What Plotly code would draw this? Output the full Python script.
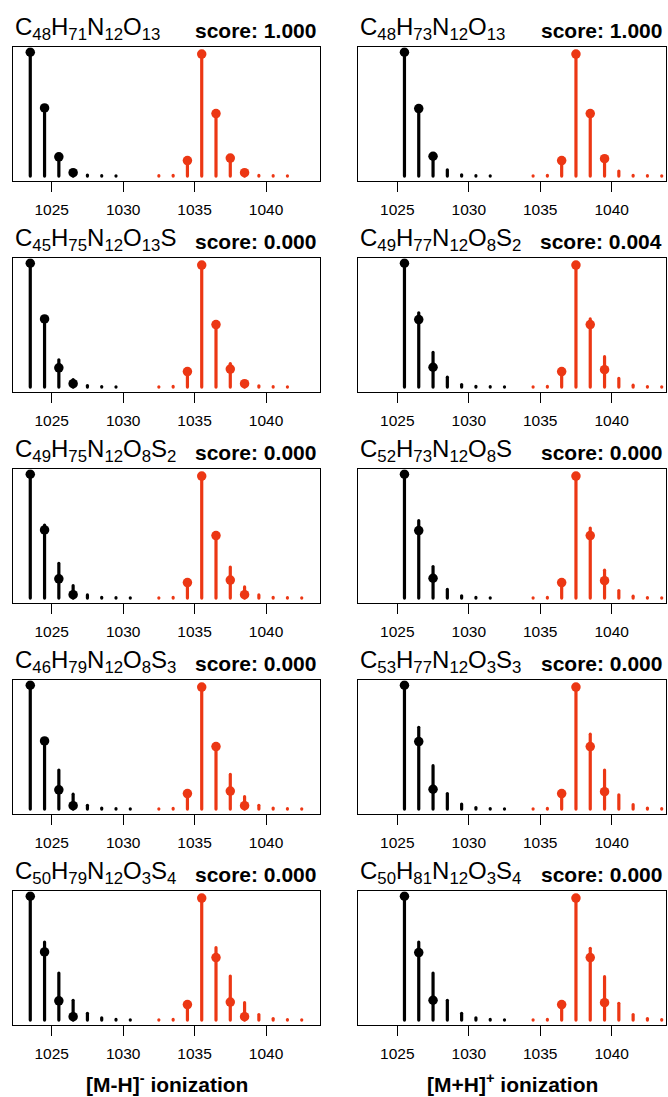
import re
import plotly.graph_objects as go

W, H = 668, 1097

# ---------------- data ----------------
LEFT_BLACK_X = [1023.5, 1024.5, 1025.5, 1026.5, 1027.5, 1028.5, 1029.5, 1030.5, 1031.5]
LEFT_RED_X = [1032.5, 1033.5, 1034.5, 1035.5, 1036.5, 1037.5, 1038.5, 1039.5,
              1040.5, 1041.5, 1042.5, 1043.5]
RIGHT_BLACK_X = [1025.5, 1026.5, 1027.5, 1028.5, 1029.5, 1030.5, 1031.5, 1032.5, 1033.5]
RIGHT_RED_X = [1034.5, 1035.5, 1036.5, 1037.5, 1038.5, 1039.5, 1040.5, 1041.5,
               1042.5, 1043.5]

LEFT_FORMULAS = ["C48H71N12O13", "C45H75N12O13S", "C49H75N12O8S2",
                 "C46H79N12O8S3", "C50H79N12O3S4"]
LEFT_SCORES = ["1.000", "0.000", "0.000", "0.000", "0.000"]
RIGHT_FORMULAS = ["C48H73N12O13", "C49H77N12O8S2", "C52H73N12O8S",
                  "C53H77N12O3S3", "C50H81N12O3S4"]
RIGHT_SCORES = ["1.000", "0.004", "0.000", "0.000", "0.000"]

# theoretical isotope patterns (stems), one list per formula
LEFT_BLACK_STEMS = [
    [1.0, 0.56, 0.17, 0.04, 0.008, 0.003, 0.002, None, None],
    [1.0, 0.55, 0.22, 0.06, 0.012, 0.004, 0.002, 0.001, None],
    [1.0, 0.59, 0.28, 0.10, 0.025, 0.006, 0.003, 0.002, None],
    [1.0, 0.55, 0.315, 0.12, 0.03, 0.008, 0.003, 0.002, None],
    [1.0, 0.63, 0.38, 0.16, 0.055, 0.018, 0.005, 0.002, 0.001],
]
LEFT_RED_STEMS = [
    [0.003, 0.006, 0.13, 1.0, 0.51, 0.15, 0.03, 0.005, 0.003, 0.002, None, None],
    [0.002, 0.005, 0.12, 1.0, 0.50, 0.19, 0.04, 0.01, 0.003, 0.002, 0.001, None],
    [0.002, 0.005, 0.13, 1.0, 0.52, 0.25, 0.09, 0.025, 0.006, 0.003, 0.002, None],
    [0.002, 0.005, 0.12, 1.0, 0.51, 0.28, 0.10, 0.03, 0.008, 0.003, 0.002, None],
    [0.002, 0.005, 0.12, 1.0, 0.585, 0.355, 0.14, 0.045, 0.012, 0.004, 0.002, 0.001],
]
RIGHT_BLACK_STEMS = [
    [1.0, 0.55, 0.16, 0.05, 0.01, 0.003, 0.002, None, None],
    [1.0, 0.60, 0.28, 0.08, 0.02, 0.006, 0.003, 0.002, None],
    [1.0, 0.625, 0.255, 0.07, 0.018, 0.005, 0.002, 0.001, None],
    [1.0, 0.66, 0.35, 0.125, 0.04, 0.012, 0.004, 0.002, 0.001],
    [1.0, 0.63, 0.38, 0.16, 0.055, 0.018, 0.005, 0.002, 0.001],
]
RIGHT_RED_STEMS = [
    [0.002, 0.006, 0.13, 1.0, 0.51, 0.15, 0.04, 0.006, 0.003, 0.002],
    [0.002, 0.005, 0.12, 1.0, 0.55, 0.245, 0.07, 0.015, 0.004, 0.002],
    [0.002, 0.005, 0.12, 1.0, 0.565, 0.225, 0.06, 0.015, 0.004, 0.002],
    [0.002, 0.005, 0.12, 1.0, 0.605, 0.315, 0.115, 0.035, 0.008, 0.003],
    [0.002, 0.005, 0.12, 1.0, 0.58, 0.35, 0.135, 0.045, 0.012, 0.004],
]

# observed intensities (dots), same for every formula of a column
LEFT_BLACK_OBS_X = [1023.5, 1024.5, 1025.5, 1026.5]
LEFT_BLACK_OBS = [1.0, 0.55, 0.155, 0.027]
LEFT_RED_OBS_X = [1034.5, 1035.5, 1036.5, 1037.5, 1038.5]
LEFT_RED_OBS = [0.125, 0.985, 0.505, 0.145, 0.027]
RIGHT_BLACK_OBS_X = [1025.5, 1026.5, 1027.5]
RIGHT_BLACK_OBS = [1.0, 0.545, 0.16]
RIGHT_RED_OBS_X = [1036.5, 1037.5, 1038.5, 1039.5]
RIGHT_RED_OBS = [0.125, 0.985, 0.505, 0.14]

X_TICKS = [1025, 1030, 1035, 1040]
X_RANGE = [1022.27, 1043.8]
Y_RANGE = [-0.04, 1.04]
COLUMN_LABELS = ["[M-H]<sup>-</sup> ionization", "[M+H]<sup>+</sup> ionization"]

# ---------------- style / layout ----------------
FONT = "Liberation Sans, Arial, Helvetica, sans-serif"
BLACK = "#000000"
RED = "#EC3714"
COL_LEFT = [12.7, 358.3]
COL_RIGHT = [320.3, 666.0]
ROW_TOP0, ROW_BOT0, ROW_STEP = 47.3, 181.0, 211.0


def stem_xy(xs, hs):
    sx, sy = [], []
    for x, h in zip(xs, hs):
        if h is None:
            continue
        sx += [x, x, None]
        sy += [0, h, None]
    return sx, sy


def formula_html(f):
    return re.sub(r"(\d+)", r"<sub>\1</sub>", f)


fig = go.Figure()
layout = dict(width=W, height=H, margin=dict(l=0, r=0, t=0, b=0),
              paper_bgcolor="white", plot_bgcolor="white", showlegend=False,
              font=dict(family=FONT, color=BLACK))
annotations = []

columns = [
    (LEFT_BLACK_X, LEFT_RED_X, LEFT_BLACK_STEMS, LEFT_RED_STEMS, LEFT_FORMULAS, LEFT_SCORES,
     LEFT_BLACK_OBS_X, LEFT_BLACK_OBS, LEFT_RED_OBS_X, LEFT_RED_OBS),
    (RIGHT_BLACK_X, RIGHT_RED_X, RIGHT_BLACK_STEMS, RIGHT_RED_STEMS, RIGHT_FORMULAS, RIGHT_SCORES,
     RIGHT_BLACK_OBS_X, RIGHT_BLACK_OBS, RIGHT_RED_OBS_X, RIGHT_RED_OBS),
]

for r in range(5):
    top = ROW_TOP0 + r * ROW_STEP
    bot = ROW_BOT0 + r * ROW_STEP
    for c in range(2):
        (bx, rx, bstems, rstems, formulas, scores, box, bov, rox, rov) = columns[c]
        n = r * 2 + c + 1
        xa = "x" if n == 1 else f"x{n}"
        ya = "y" if n == 1 else f"y{n}"
        # stems
        sx, sy = stem_xy(bx, bstems[r])
        fig.add_trace(go.Scatter(x=sx, y=sy, mode="lines", line=dict(color=BLACK, width=3.2),
                                 xaxis=xa, yaxis=ya, hoverinfo="skip"))
        sx, sy = stem_xy(rx, rstems[r])
        fig.add_trace(go.Scatter(x=sx, y=sy, mode="lines", line=dict(color=RED, width=3.2),
                                 xaxis=xa, yaxis=ya, hoverinfo="skip"))
        # observed dots
        fig.add_trace(go.Scatter(x=box, y=bov, mode="markers",
                                 marker=dict(color=BLACK, size=9.5, line=dict(width=0)),
                                 xaxis=xa, yaxis=ya))
        fig.add_trace(go.Scatter(x=rox, y=rov, mode="markers",
                                 marker=dict(color=RED, size=9.5, line=dict(width=0)),
                                 xaxis=xa, yaxis=ya))
        xd = [COL_LEFT[c] / W, COL_RIGHT[c] / W]
        yd = [1 - bot / H, 1 - top / H]
        layout["xaxis" if n == 1 else f"xaxis{n}"] = dict(
            domain=xd, range=X_RANGE, anchor=ya, tickmode="array", tickvals=X_TICKS,
            ticktext=[str(t) for t in X_TICKS], ticks="outside", ticklen=10, tickwidth=1,
            tickcolor=BLACK, showline=True, mirror=True, linecolor=BLACK, linewidth=1.2,
            showgrid=False, zeroline=False, ticklabelstandoff=4,
            tickfont=dict(size=15.5, color=BLACK, family=FONT), fixedrange=True)
        layout["yaxis" if n == 1 else f"yaxis{n}"] = dict(
            domain=yd, range=Y_RANGE, anchor=xa, showticklabels=False, ticks="",
            showline=True, mirror=True, linecolor=BLACK, linewidth=1.2,
            showgrid=False, zeroline=False, fixedrange=True)
        # titles
        annotations.append(dict(
            xref="paper", yref="paper", x=COL_LEFT[c] / W, y=1 - (top - 18.5) / H,
            xanchor="left", yanchor="middle", showarrow=False,
            text=formula_html(formulas[r]), font=dict(size=24, family=FONT, color=BLACK)))
        annotations.append(dict(
            xref="paper", yref="paper", x=(COL_RIGHT[c] - 2) / W, y=1 - (top - 17.3) / H,
            xanchor="right", yanchor="middle", showarrow=False,
            text="<b>score: " + scores[r] + "</b>", font=dict(size=21, family=FONT, color=BLACK)))

for c in range(2):
    annotations.append(dict(
        xref="paper", yref="paper", x=(COL_LEFT[c] + COL_RIGHT[c]) / 2 / W, y=1 - 1082.5 / H,
        xanchor="center", yanchor="middle", showarrow=False,
        text="<b>" + COLUMN_LABELS[c] + "</b>", font=dict(size=21, family=FONT, color=BLACK)))

layout["annotations"] = annotations
fig.update_layout(**layout)

post = ("document.querySelectorAll('.scatterlayer path.js-line').forEach("
        "function(p){p.style.strokeLinecap='round';});")
fig.write_html("out.html", post_script=post, config={"displayModeBar": False})
